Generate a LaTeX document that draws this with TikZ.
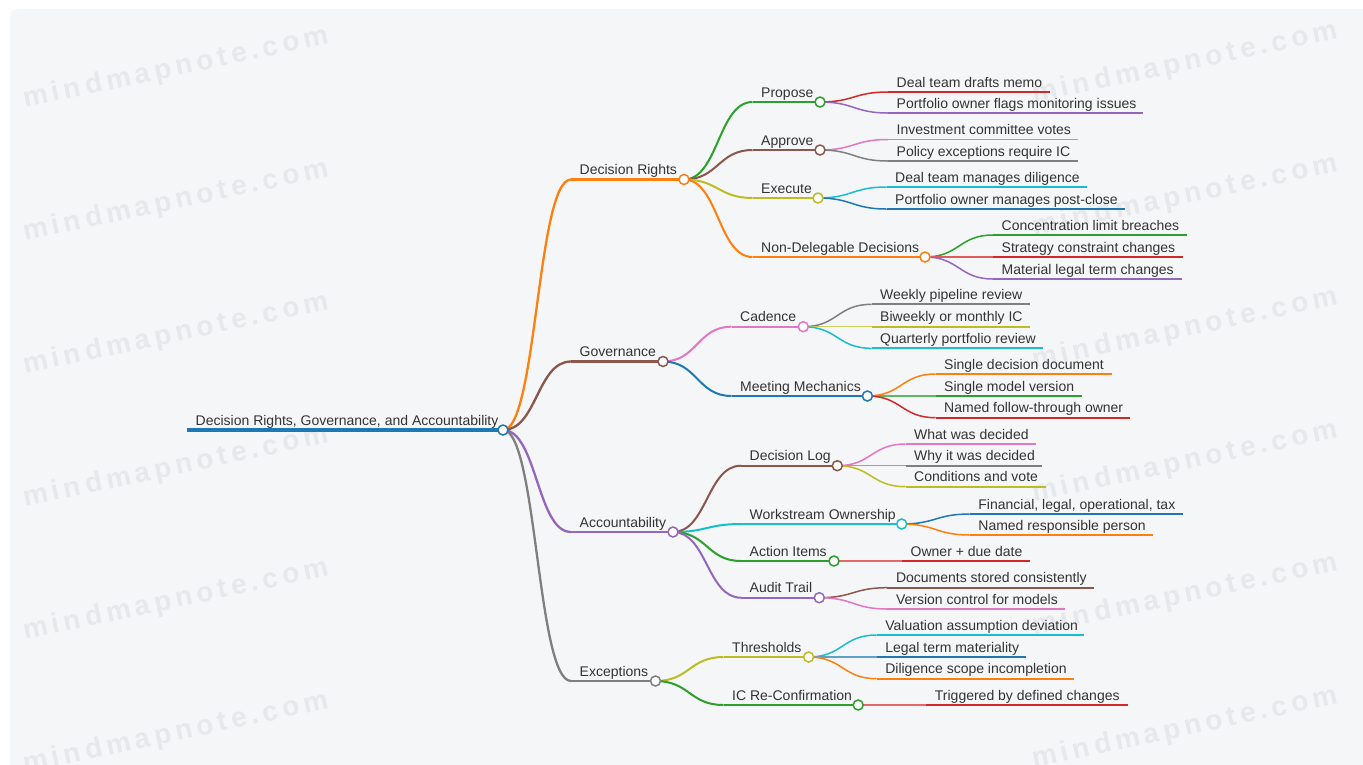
\documentclass[tikz,border=0pt]{standalone}
\usepackage{fontspec}
\usetikzlibrary{calc}
\setmainfont{Liberation Sans}
\newfontfamily\wmfont[LetterSpace=16]{Liberation Sans Bold}
\definecolor{cblue}{HTML}{1F77B4}
\definecolor{corange}{HTML}{FF7F0E}
\definecolor{cgreen}{HTML}{2CA02C}
\definecolor{cred}{HTML}{D62728}
\definecolor{cpurple}{HTML}{9467BD}
\definecolor{cbrown}{HTML}{8C564B}
\definecolor{cpink}{HTML}{E377C2}
\definecolor{cgray}{HTML}{7F7F7F}
\definecolor{colive}{HTML}{BCBD22}
\definecolor{ccyan}{HTML}{17BECF}
\definecolor{bgc}{HTML}{F5F6F8}
\definecolor{wmc}{HTML}{E7E8EB}
\definecolor{txt}{HTML}{333333}
\tikzset{
  lbl/.style={text=txt, inner sep=0pt, font=\fontsize{14}{16}\selectfont, anchor=base west},
  dot/.style={circle, minimum size=10pt, inner sep=0pt, fill=white, line width=1.5pt},
  wm/.style={text=wmc, inner sep=0pt, font=\wmfont\fontsize{28}{30}\selectfont, anchor=base west, rotate=12},
}
% name, start x, end x, y, colour, line width, text
\newcommand\mmnode[7]{%
  \coordinate (#1-s) at (#2,#4);
  \coordinate (#1-e) at (#3,#4);
  \draw[#5, line width=#6] (#1-s) -- (#1-e);
  \node[lbl] (#1) at (#2+8.5,#4-5) {#7};
}
% parent, child, colour, line width
\newcommand\mmlink[4]{%
  \draw[#3, line width=#4] let \p1=(#1-e), \p2=(#2-s), \n1={(\x1+\x2)/2} in
    (\p1) .. controls (\n1,\y1) and (\n1,\y2) .. (\p2);
}
\newcommand\mmdot[2]{\node[dot, draw=#2] (#1-c) at (#1-e) {};}
\begin{document}
\begin{tikzpicture}[x=1pt,y=-1pt]
\useasboundingbox (0,0) rectangle (1363,764);
\clip (0,0) rectangle (1363,764);
\fill[white] (0,0) rectangle (1363,764);
\fill[bgc, rounded corners=8pt] (10,9) rectangle (1380,780);
% watermarks
\foreach \yy [count=\i] in {108,241,374,507,640,773}{
  \node[wm] (wl\i) at (25,\yy) {mindmapnote.com};
  \node[wm] (wr\i) at (1034,\yy-5) {mindmapnote.com};
}
% nodes
\mmnode{R}{187}{503}{430}{cblue}{3.5pt}{Decision Rights, Governance, and Accountability}
\mmnode{DR}{571}{684}{179.5}{corange}{2.5pt}{Decision Rights}
\mmnode{GV}{571}{663}{361.5}{cbrown}{2.5pt}{Governance}
\mmnode{AC}{571}{673}{532}{cpurple}{2.5pt}{Accountability}
\mmnode{EX}{571}{655.5}{681}{cgray}{2.5pt}{Exceptions}
% Decision Rights
\mmnode{PR}{752.5}{820}{102}{cgreen}{2pt}{Propose}
\mmnode{AP}{752.5}{820}{150}{cbrown}{2pt}{Approve}
\mmnode{EE}{752.5}{818}{198}{colive}{2pt}{Execute}
\mmnode{ND}{752.5}{925}{257}{corange}{2pt}{Non-Delegable Decisions}
\mmnode{PR1}{888}{1050}{92}{cred}{1.7pt}{Deal team drafts memo}
\mmnode{PR2}{888}{1143}{113}{cpurple}{1.7pt}{Portfolio owner flags monitoring issues}
\mmnode{AP1}{888}{1078}{139.5}{cpink}{1.7pt}{Investment committee votes}
\mmnode{AP2}{888}{1078}{161}{cgray}{1.7pt}{Policy exceptions require IC}
\mmnode{EE1}{886.5}{1087}{187}{ccyan}{1.7pt}{Deal team manages diligence}
\mmnode{EE2}{886.5}{1125}{209}{cblue}{1.7pt}{Portfolio owner manages post-close}
\mmnode{ND1}{993}{1187}{235}{cgreen}{1.7pt}{Concentration limit breaches}
\mmnode{ND2}{993}{1183}{257}{cred}{1.7pt}{Strategy constraint changes}
\mmnode{ND3}{993}{1182}{279}{cpurple}{1.7pt}{Material legal term changes}
% Governance
\mmnode{CA}{731.5}{803.3}{326.7}{cpink}{2pt}{Cadence}
\mmnode{MM}{731.5}{867.4}{396}{cblue}{2pt}{Meeting Mechanics}
\mmnode{CA1}{871.5}{1030}{304.3}{cgray}{1.7pt}{Weekly pipeline review}
\mmnode{CA2}{871.5}{1030}{326.7}{colive}{1.7pt}{Biweekly or monthly IC}
\mmnode{CA3}{871.5}{1043}{348.3}{ccyan}{1.7pt}{Quarterly portfolio review}
\mmnode{MM1}{935.5}{1112}{374}{corange}{1.7pt}{Single decision document}
\mmnode{MM2}{935.5}{1081.5}{396}{cgreen}{1.7pt}{Single model version}
\mmnode{MM3}{935.5}{1130}{417.7}{cred}{1.7pt}{Named follow-through owner}
% Accountability
\mmnode{DL}{741}{837.3}{465.7}{cbrown}{2pt}{Decision Log}
\mmnode{WO}{741}{901.7}{524}{ccyan}{2pt}{Workstream Ownership}
\mmnode{AI}{741}{834}{561}{cgreen}{2pt}{Action Items}
\mmnode{AT}{741}{819.3}{597.7}{cpurple}{2pt}{Audit Trail}
\mmnode{DL1}{905.5}{1036}{444}{cpink}{1.7pt}{What was decided}
\mmnode{DL2}{905.5}{1041.7}{465.7}{cgray}{1.7pt}{Why it was decided}
\mmnode{DL3}{905.5}{1046}{486.7}{colive}{1.7pt}{Conditions and vote}
\mmnode{WO1}{969.7}{1182.7}{514}{cblue}{1.7pt}{Financial, legal, operational, tax}
\mmnode{WO2}{969.7}{1153}{535}{corange}{1.7pt}{Named responsible person}
\mmnode{AI1}{902}{1030}{561}{cred}{1.7pt}{Owner + due date}
\mmnode{AT1}{887.3}{1093.7}{587.7}{cbrown}{1.7pt}{Documents stored consistently}
\mmnode{AT2}{887.3}{1064.5}{609}{cpink}{1.7pt}{Version control for models}
% Exceptions
\mmnode{TH}{723.5}{808.6}{657}{colive}{2pt}{Thresholds}
\mmnode{IC}{723.5}{858.2}{705}{cgreen}{2pt}{IC Re-Confirmation}
\mmnode{TH1}{876.6}{1084}{635}{ccyan}{1.7pt}{Valuation assumption deviation}
\mmnode{TH2}{876.6}{1025.6}{657}{cblue}{1.7pt}{Legal term materiality}
\mmnode{TH3}{876.6}{1073.8}{678.7}{corange}{1.7pt}{Diligence scope incompletion}
\mmnode{IC1}{926.2}{1127.7}{705}{cred}{1.7pt}{Triggered by defined changes}
% links
\mmlink{R}{DR}{corange}{2.3pt}
\mmlink{R}{GV}{cbrown}{2.3pt}
\mmlink{R}{AC}{cpurple}{2.3pt}
\mmlink{R}{EX}{cgray}{2.3pt}
\mmlink{DR}{PR}{cgreen}{2pt}
\mmlink{DR}{AP}{cbrown}{2pt}
\mmlink{DR}{EE}{colive}{2pt}
\mmlink{DR}{ND}{corange}{2pt}
\mmlink{PR}{PR1}{cred}{1.5pt}
\mmlink{PR}{PR2}{cpurple}{1.5pt}
\mmlink{AP}{AP1}{cpink}{1.5pt}
\mmlink{AP}{AP2}{cgray}{1.5pt}
\mmlink{EE}{EE1}{ccyan}{1.5pt}
\mmlink{EE}{EE2}{cblue}{1.5pt}
\mmlink{ND}{ND1}{cgreen}{1.5pt}
\mmlink{ND}{ND2}{cred!75}{1.5pt}
\mmlink{ND}{ND3}{cpurple}{1.5pt}
\mmlink{GV}{CA}{cpink}{2pt}
\mmlink{GV}{MM}{cblue}{2pt}
\mmlink{CA}{CA1}{cgray}{1.5pt}
\mmlink{CA}{CA2}{colive!75}{1.5pt}
\mmlink{CA}{CA3}{ccyan}{1.5pt}
\mmlink{MM}{MM1}{corange}{1.5pt}
\mmlink{MM}{MM2}{cgreen!75}{1.5pt}
\mmlink{MM}{MM3}{cred}{1.5pt}
\mmlink{AC}{DL}{cbrown}{2pt}
\mmlink{AC}{WO}{ccyan}{2pt}
\mmlink{AC}{AI}{cgreen}{2pt}
\mmlink{AC}{AT}{cpurple}{2pt}
\mmlink{DL}{DL1}{cpink}{1.5pt}
\mmlink{DL}{DL2}{cgray!75}{1.5pt}
\mmlink{DL}{DL3}{colive}{1.5pt}
\mmlink{WO}{WO1}{cblue}{1.5pt}
\mmlink{WO}{WO2}{corange}{1.5pt}
\mmlink{AI}{AI1}{cred!70}{1.5pt}
\mmlink{AT}{AT1}{cbrown}{1.5pt}
\mmlink{AT}{AT2}{cpink}{1.5pt}
\mmlink{EX}{TH}{colive}{2pt}
\mmlink{EX}{IC}{cgreen}{2pt}
\mmlink{TH}{TH1}{ccyan}{1.5pt}
\mmlink{TH}{TH2}{cblue!70}{1.5pt}
\mmlink{TH}{TH3}{corange}{1.5pt}
\mmlink{IC}{IC1}{cred!70}{1.5pt}
% circles
\mmdot{R}{cblue}
\mmdot{DR}{corange}
\mmdot{GV}{cbrown}
\mmdot{AC}{cpurple}
\mmdot{EX}{cgray}
\mmdot{PR}{cgreen}
\mmdot{AP}{cbrown}
\mmdot{EE}{colive}
\mmdot{ND}{corange}
\mmdot{CA}{cpink}
\mmdot{MM}{cblue}
\mmdot{DL}{cbrown}
\mmdot{WO}{ccyan}
\mmdot{AI}{cgreen}
\mmdot{AT}{cpurple}
\mmdot{TH}{colive}
\mmdot{IC}{cgreen}
\end{tikzpicture}
\end{document}
